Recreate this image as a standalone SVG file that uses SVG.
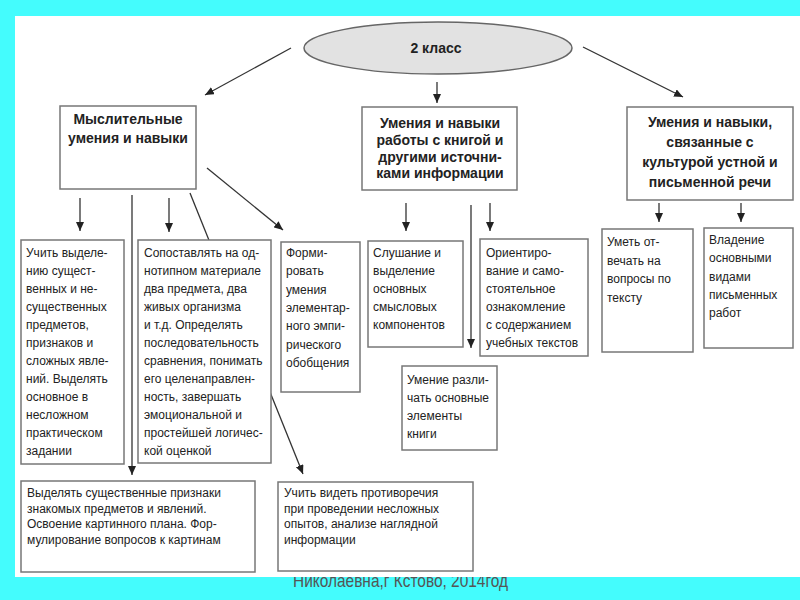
<svg xmlns="http://www.w3.org/2000/svg" width="800" height="600" viewBox="0 0 800 600">
<defs>
<marker id="ah" markerUnits="userSpaceOnUse" markerWidth="9" markerHeight="8" refX="9" refY="4" orient="auto">
<path d="M0,0 L9,4 L0,8 z" fill="#222"/>
</marker>
<style>
.box{fill:#fff;stroke:#777;stroke-width:1.5}
.hd{font-family:"Liberation Sans",Arial,sans-serif;font-weight:bold;font-size:14px;fill:#222;text-anchor:middle}
.tx{font-family:"Liberation Sans",Arial,sans-serif;font-size:12px;fill:#222}
.ar{stroke:#333;stroke-width:1.3;fill:none;marker-end:url(#ah)}
</style>
</defs>
<rect x="0" y="0" width="800" height="600" fill="#44fcfd"/>
<text x="293" y="587" font-family="Liberation Sans,Arial,sans-serif" font-size="19" fill="#555" textLength="215" lengthAdjust="spacingAndGlyphs">Николаевна,г Кстово, 2014год</text>
<rect x="15" y="16" width="785" height="561" fill="#fff"/>

<g id="connectors">
<line class="ar" x1="291" y1="48" x2="205" y2="95"/>
<line class="ar" x1="437" y1="82" x2="437" y2="103"/>
<line class="ar" x1="583" y1="47" x2="683" y2="97"/>
<line class="ar" x1="80" y1="198" x2="80" y2="231"/>
<line class="ar" x1="132" y1="195" x2="132" y2="475"/>
<line class="ar" x1="169" y1="198" x2="169" y2="232"/>
<line class="ar" x1="190" y1="193" x2="303" y2="474"/>
<line class="ar" x1="207" y1="168" x2="283" y2="230"/>
<line class="ar" x1="406" y1="203" x2="406" y2="231"/>
<line class="ar" x1="471" y1="205" x2="471" y2="348"/>
<line class="ar" x1="490" y1="203" x2="490" y2="231"/>
<line class="ar" x1="659" y1="203" x2="659" y2="222"/>
<line class="ar" x1="741" y1="203" x2="741" y2="222"/>
</g>

<g id="root">
<ellipse cx="438" cy="48" rx="134" ry="26" fill="#e2e2e2" stroke="#666" stroke-width="1.5"/>
<text class="hd" x="436" y="53">2 класс</text>
</g>

<g id="n1">
<rect class="box" x="60" y="106" width="136" height="83"/>
<text class="hd" x="128" y="124">Мыслительные</text>
<text class="hd" x="128" y="143">умения и навыки</text>
</g>

<g id="n2">
<rect class="box" x="362" y="107" width="155" height="83"/>
<text class="hd" x="440" y="128">Умения и навыки</text>
<text class="hd" x="440" y="145">работы с книгой и</text>
<text class="hd" x="440" y="162">другими источни-</text>
<text class="hd" x="440" y="178">ками информации</text>
</g>

<g id="n3">
<rect class="box" x="627" y="107" width="166" height="93"/>
<text class="hd" x="710" y="127">Умения и навыки,</text>
<text class="hd" x="710" y="147">связанные с</text>
<text class="hd" x="710" y="167">культурой устной и</text>
<text class="hd" x="710" y="187">письменной речи</text>
</g>

<g id="nA">
<rect class="box" x="21" y="240" width="103" height="224"/>
<text class="tx" x="26" y="257">
<tspan x="26">Учить выделе-</tspan><tspan x="26" dy="18">нию сущест-</tspan><tspan x="26" dy="18">венных и не-</tspan><tspan x="26" dy="18">существенных</tspan><tspan x="26" dy="18">предметов,</tspan><tspan x="26" dy="18">признаков и</tspan><tspan x="26" dy="18">сложных явле-</tspan><tspan x="26" dy="18">ний.  Выделять</tspan><tspan x="26" dy="18">основное  в</tspan><tspan x="26" dy="18">несложном</tspan><tspan x="26" dy="18">практическом</tspan><tspan x="26" dy="18">задании</tspan>
</text>
</g>

<g id="nB">
<rect class="box" x="138" y="240" width="133" height="223"/>
<text class="tx" x="144" y="257">
<tspan x="144">Сопоставлять на  од-</tspan><tspan x="144" dy="18">нотипном материале</tspan><tspan x="144" dy="18">два предмета, два</tspan><tspan x="144" dy="18">живых организма</tspan><tspan x="144" dy="18">и т.д. Определять</tspan><tspan x="144" dy="18">последовательность</tspan><tspan x="144" dy="18">сравнения, понимать</tspan><tspan x="144" dy="18">его целенаправлен-</tspan><tspan x="144" dy="18">ность, завершать</tspan><tspan x="144" dy="18">эмоциональной и</tspan><tspan x="144" dy="18">простейшей логичес-</tspan><tspan x="144" dy="18">кой оценкой</tspan>
</text>
</g>

<g id="nC">
<rect class="box" x="281" y="242" width="79" height="150"/>
<text class="tx" x="286" y="257">
<tspan x="286">Форми-</tspan><tspan x="286" dy="18.3">ровать</tspan><tspan x="286" dy="18.3">умения</tspan><tspan x="286" dy="18.3">элементар-</tspan><tspan x="286" dy="18.3">ного эмпи-</tspan><tspan x="286" dy="18.3">рического</tspan><tspan x="286" dy="18.3">обобщения</tspan>
</text>
</g>

<g id="nD">
<rect class="box" x="368" y="241" width="95" height="106"/>
<text class="tx" x="373" y="257">
<tspan x="373">Слушание и</tspan><tspan x="373" dy="18">выделение</tspan><tspan x="373" dy="18">основных</tspan><tspan x="373" dy="18">смысловых</tspan><tspan x="373" dy="18">компонентов</tspan>
</text>
</g>

<g id="nE">
<rect class="box" x="480" y="239" width="108" height="117"/>
<text class="tx" x="486" y="257">
<tspan x="486">Ориентиро-</tspan><tspan x="486" dy="18">вание и само-</tspan><tspan x="486" dy="18">стоятельное</tspan><tspan x="486" dy="18">ознакомление</tspan><tspan x="486" dy="18">с содержанием</tspan><tspan x="486" dy="18">учебных текстов</tspan>
</text>
</g>

<g id="nF">
<rect class="box" x="402" y="366" width="95" height="84"/>
<text class="tx" x="407" y="384">
<tspan x="407">Умение разли-</tspan><tspan x="407" dy="18">чать основные</tspan><tspan x="407" dy="18">элементы</tspan><tspan x="407" dy="18">книги</tspan>
</text>
</g>

<g id="nG">
<rect class="box" x="602" y="229" width="91" height="123"/>
<text class="tx" x="607" y="246">
<tspan x="607">Уметь от-</tspan><tspan x="607" dy="18.5">вечать на</tspan><tspan x="607" dy="18.5">вопросы по</tspan><tspan x="607" dy="18.5">тексту</tspan>
</text>
</g>

<g id="nH">
<rect class="box" x="704" y="228" width="89" height="120"/>
<text class="tx" x="709" y="244">
<tspan x="709">Владение</tspan><tspan x="709" dy="18.3">основными</tspan><tspan x="709" dy="18.3">видами</tspan><tspan x="709" dy="18.3">письменных</tspan><tspan x="709" dy="18.3">работ</tspan>
</text>
</g>

<g id="nI">
<rect class="box" x="21" y="481" width="234" height="91"/>
<text class="tx" x="27" y="497">
<tspan x="27">Выделять существенные признаки</tspan><tspan x="27" dy="15.7">знакомых предметов и явлений.</tspan><tspan x="27" dy="15.7">Освоение картинного плана. Фор-</tspan><tspan x="27" dy="15.7">мулирование вопросов к картинам</tspan>
</text>
</g>

<g id="nJ">
<rect class="box" x="278" y="482" width="195" height="89"/>
<text class="tx" x="284" y="497">
<tspan x="284">Учить видеть противоречия</tspan><tspan x="284" dy="15.7">при проведении несложных</tspan><tspan x="284" dy="15.7">опытов, анализе наглядной</tspan><tspan x="284" dy="15.7">информации</tspan>
</text>
</g>
</svg>
